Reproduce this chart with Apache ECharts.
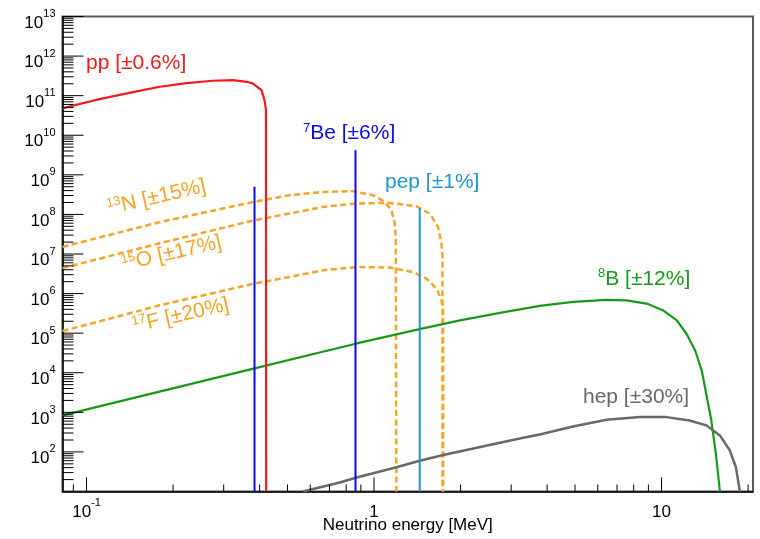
<!DOCTYPE html>
<html><head><meta charset="utf-8">
<script src="https://cdn.jsdelivr.net/npm/echarts@6/dist/echarts.min.js"></script>
<style>html,body{margin:0;padding:0;background:#fff}#c{width:760px;height:539px}</style>
</head><body><div id="c"></div>
<script>
// ---------------- data ----------------
const ppE    = [0.0825, 0.111, 0.145, 0.18, 0.223, 0.275, 0.322, 0.361, 0.378, 0.406, 0.416, 0.421, 0.4216];
const ppFlux = [4.8e10, 8.2e10, 1.23e11, 1.68e11, 2.08e11, 2.38e11, 2.48e11, 2.24e11, 2.04e11, 1.38e11, 7.7e10, 4.3e10, 10];

const n13E    = [0.0825, 0.18, 0.3825, 0.508, 0.665, 0.845, 0.992, 1.089, 1.15, 1.18, 1.19, 1.196];
const n13Flux = [1.51e7, 6.4e7, 2.07e8, 3.06e8, 3.7e8, 3.86e8, 3.06e8, 2.07e8, 1.28e8, 5.9e7, 2.7e7, 10];

const o15E    = [0.0825, 0.18, 0.3825, 0.508, 0.665, 0.869, 1.134, 1.404, 1.562, 1.67, 1.716, 1.73, 1.732];
const o15Flux = [4.4e6, 1.87e7, 7.1e7, 1.05e8, 1.55e8, 1.89e8, 1.95e8, 1.61e8, 1.05e8, 4.8e7, 1.84e7, 8.4e6, 10];

const f17E    = [0.0825, 0.18, 0.3825, 0.508, 0.665, 0.869, 1.134, 1.367, 1.522, 1.649, 1.716, 1.739, 1.74];
const f17Flux = [1.13e5, 5.06e5, 1.79e6, 2.62e6, 3.88e6, 4.7e6, 4.54e6, 3.5e6, 2.39e6, 1.34e6, 6.8e5, 3.8e5, 10];

const b8E    = [0.0825, 0.384, 0.87, 1.44, 1.99, 2.74, 3.77, 4.92, 6.44, 7.55, 8.87, 10.1, 11.3, 12.2, 13.1, 13.8, 14.3, 14.9, 15.45, 15.96];
const b8Flux = [835, 1.29e4, 5.5e4, 1.26e5, 2.1e5, 3.27e5, 4.9e5, 6.2e5, 6.97e5, 6.77e5, 5.6e5, 3.8e5, 2.1e5, 9.8e4, 3.6e4, 1.12e4, 2950, 620, 90, 10];

const hepE    = [0.566, 0.76, 0.87, 1.197, 1.42, 1.74, 3.21, 3.77, 4.92, 6.44, 8.41, 10.4, 12.5, 14.34, 15.96, 17.27, 18.14, 18.62, 18.7];
const hepFlux = [10, 16.9, 22.6, 41, 58, 84, 219, 275, 440, 650, 757, 757, 624, 467, 261, 109, 41, 12.9, 10];

const be7LineE    = [0.384, 0.862];
const be7LineFlux = [5e8, 4.2e9];
const pepLineE    = [1.442];
const pepLineFlux = [1.46e8];

// axes
const xMin = 0.0825, xMax = 20.8, yMin = 10, yMax = 1e13;
const xLabelValues = [0.1, 1, 10];
const xLabelBase   = ['10', '1', '10'];
const xLabelExp    = ['-1', '', ''];
const yLabelValues = [1e2, 1e3, 1e4, 1e5, 1e6, 1e7, 1e8, 1e9, 1e10, 1e11, 1e12, 1e13];
const yLabelExp    = ['2', '3', '4', '5', '6', '7', '8', '9', '10', '11', '12', '13'];
const xMajorTicks  = [0.1, 1, 10];
const xMinorTicks  = [0.09, 0.2, 0.3, 0.4, 0.5, 0.6, 0.7, 0.8, 0.9, 2, 3, 4, 5, 6, 7, 8, 9, 20];
const yMajorTicks  = [1e2, 1e3, 1e4, 1e5, 1e6, 1e7, 1e8, 1e9, 1e10, 1e11, 1e12, 1e13];
const yDecades     = [1e1, 1e2, 1e3, 1e4, 1e5, 1e6, 1e7, 1e8, 1e9, 1e10, 1e11, 1e12];
const yMinorMult   = [2, 3, 4, 5, 6, 7, 8, 9];

// ---------------- chart ----------------
const FONT = '"Liberation Sans", Arial, Helvetica, sans-serif';
const C = { pp: '#f01a1a', be7: '#0a0ae6', pep: '#2196cc', cno: '#f5a425', b8: '#179a17', hep: '#686868' };

const pairs = (xs, ys) => xs.map((x, i) => [x, ys[i]]);
const yMinorTicks = [];
yDecades.forEach(d => yMinorMult.forEach(m => yMinorTicks.push(d * m)));

function findIdx(arr, v) {
  for (let i = 0; i < arr.length; i++) if (Math.abs(arr[i] - v) / arr[i] < 1e-6) return i;
  return -1;
}

function curve(name, xs, ys, color, dashed, width) {
  return {
    type: 'line', name, data: pairs(xs, ys), showSymbol: false, symbol: 'none', clip: true,
    animation: false, silent: true,
    lineStyle: { color, width: width || 2, type: dashed ? [6, 3.5] : 'solid', cap: 'butt' }
  };
}
function vline(name, e, f, color) {
  return curve(name, [e, e], [yMin, f], color, false, 2);
}

function tickSeries(values, axis, len) {
  return {
    type: 'custom', silent: true, animation: false, z: 5,
    data: values.map(v => axis === 'x' ? [v, yMin] : [xMin, v]),
    renderItem: function (params, api) {
      const p = api.coord([api.value(0), api.value(1)]);
      const cs = params.coordSys;
      if (axis === 'x') {
        const yb = cs.y + cs.height;
        return { type: 'line', shape: { x1: p[0], y1: yb, x2: p[0], y2: yb - len }, style: { stroke: '#000', lineWidth: 1 } };
      }
      const xl = cs.x;
      return { type: 'line', shape: { x1: xl, y1: p[1], x2: xl + len, y2: p[1] }, style: { stroke: '#000', lineWidth: 1 } };
    }
  };
}

const axRich = {
  b: { fontSize: 17, lineHeight: 23, verticalAlign: 'bottom', fontFamily: FONT, color: '#000', fill: '#000' },
  s: { fontSize: 11, lineHeight: 9, verticalAlign: 'top', fontFamily: FONT, color: '#000', fill: '#000' }
};

// y-axis tick labels (10^n), placed through the y scale
const yLabelSeries = {
  type: 'custom', silent: true, animation: false, clip: false, z: 6,
  data: yLabelValues.map(v => [xMin, v]),
  renderItem: function (params, api) {
    const v = api.value(1);
    const p = api.coord([api.value(0), v]);
    const i = findIdx(yLabelValues, v);
    return {
      type: 'text', x: params.coordSys.x - 7, y: p[1],
      style: {
        text: '{b|10}{s|' + yLabelExp[i] + '}', rich: axRich, fill: '#000',
        font: '17px ' + FONT, align: 'right', verticalAlign: 'middle', padding: [7, 0, 0, 0]
      }
    };
  }
};

const series = [
  curve('13N', n13E, n13Flux, C.cno, true, 2.5),
  curve('15O', o15E, o15Flux, C.cno, true, 2.5),
  curve('17F', f17E, f17Flux, C.cno, true, 2.5),
  curve('8B', b8E, b8Flux, C.b8, false, 2.2),
  curve('hep', hepE, hepFlux, C.hep, false, 2.5),
  curve('pp', ppE, ppFlux, C.pp, false, 2.2),
  ...be7LineE.map((e, i) => vline('7Be', e, be7LineFlux[i], C.be7)),
  ...pepLineE.map((e, i) => vline('pep', e, pepLineFlux[i], C.pep)),
  tickSeries(xMajorTicks, 'x', 14),
  tickSeries(xMinorTicks, 'x', 7),
  tickSeries(yMajorTicks, 'y', 21),
  tickSeries(yMinorTicks, 'y', 11),
  yLabelSeries
];

const lbRich = (color) => ({
  b: { fontSize: 21, lineHeight: 22, verticalAlign: 'bottom', fontFamily: FONT, fill: color },
  s: { fontSize: 13, lineHeight: 13, verticalAlign: 'top', fontFamily: FONT, fill: color }
});
function label(text, x, y, color, rot, align) {
  return {
    type: 'text', x, y, rotation: rot || 0, z: 100, silent: true,
    style: { text, rich: lbRich(color), fill: color, font: '21px ' + FONT, align: align || 'left', verticalAlign: 'middle' }
  };
}
const ROT = 13 * Math.PI / 180;

const option = {
  animation: false,
  backgroundColor: '#fff',
  grid: {
    left: 62.5, right: 7, top: 16.5, bottom: 47.5, containLabel: false, outerBoundsMode: 'none',
    show: true, borderColor: '#5a5a5a', borderWidth: 2, backgroundColor: 'transparent'
  },
  xAxis: {
    type: 'log', logBase: 10, min: xMin, max: xMax,
    name: 'Neutrino energy [MeV]', nameLocation: 'middle', nameGap: 25, nameMoveOverlap: false,
    nameTextStyle: { fontSize: 17, fontFamily: FONT, color: '#000', verticalAlign: 'top' },
    axisLine: { show: true, lineStyle: { color: '#000', width: 1.5 } },
    axisTick: { show: false }, splitLine: { show: false }, minorTick: { show: false },
    axisLabel: {
      margin: 6, rich: axRich,
      formatter: function (v) {
        const i = findIdx(xLabelValues, v);
        if (i < 0) return '';
        return '{b|' + xLabelBase[i] + '}' + (xLabelExp[i] ? '{s|' + xLabelExp[i] + '}' : '');
      }
    }
  },
  yAxis: {
    type: 'log', logBase: 10, min: yMin, max: yMax,
    axisLine: { show: true, lineStyle: { color: '#000', width: 1.5 } },
    axisTick: { show: false }, splitLine: { show: false }, minorTick: { show: false },
    axisLabel: { show: false }
  },
  series,
  graphic: [
    label('{b|pp [±0.6%]}', 86, 63, C.pp),
    label('{s|7}{b|Be [±6%]}', 303, 132.5, C.be7),
    label('{b|pep [±1%]}', 385, 181.7, C.pep),
    label('{s|8}{b|B [±12%]}', 598, 278.3, C.b8),
    label('{b|hep [±30%]}', 583, 396.7, C.hep),
    label('{s|13}{b|N [±15%]}', 156.5, 197, C.cno, ROT, 'center'),
    label('{s|15}{b|O [±17%]}', 171.5, 253, C.cno, ROT, 'center'),
    label('{s|17}{b|F [±20%]}', 180.7, 315, C.cno, ROT, 'center')
  ]
};

const chart = echarts.init(document.getElementById('c'), null, { renderer: 'canvas' });
chart.setOption(option);
</script>
</body></html>
